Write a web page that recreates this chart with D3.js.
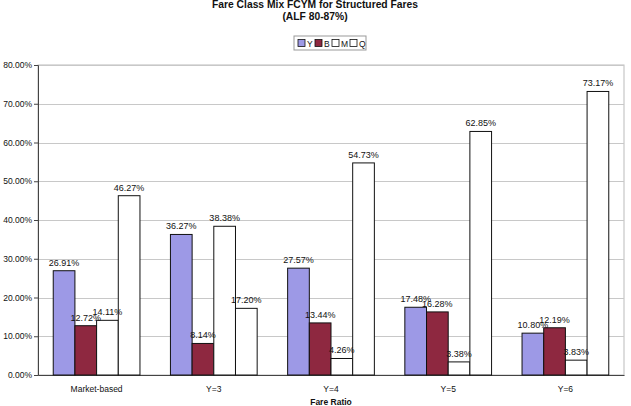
<!DOCTYPE html>
<html><head><meta charset="utf-8">
<script src="https://cdn.jsdelivr.net/npm/d3@7"></script>
<style>body{margin:0;background:#fff}svg{display:block;font-family:"Liberation Sans",Arial,sans-serif}</style>
</head><body><svg id="c" width="631" height="406"></svg>
<script>
const categories = ["Market-based","Y=3","Y=4","Y=5","Y=6"];
const seriesNames = ["Y","B","M","Q"];
const valY = [26.91,36.27,27.57,17.48,10.80];
const valB = [12.72,8.14,13.44,16.28,12.19];
const valM = [14.11,38.38,4.26,3.38,3.83];
const valQ = [46.27,17.20,54.73,62.85,73.17];
const yTicks = [0,10,20,30,40,50,60,70,80];
const colors = ["#9d99e6","#8e2840","#ffffff","#ffffff"];
const series = [valY,valB,valM,valQ];

const svg = d3.select("#c");
const L=38,R=624,T=65,B=375;
const x = d3.scaleBand().domain(categories).range([L,R]).paddingInner(0.26).paddingOuter(0.13);
const xs = d3.scaleBand().domain(seriesNames).range([0,x.bandwidth()]);
const y = d3.scaleLinear().domain([0,80]).range([B,T]);

svg.append("rect").attr("x",L).attr("y",T).attr("width",R-L).attr("height",B-T).attr("fill","none").attr("stroke","#bbb").attr("stroke-width",1);
svg.append("g").selectAll("line").data(yTicks.slice(1)).join("line")
 .attr("x1",L).attr("x2",R).attr("y1",d=>Math.round(y(d))+0.5).attr("y2",d=>Math.round(y(d))+0.5)
 .attr("stroke","#c8c8c8").attr("stroke-width",1);

const yAxis = d3.axisLeft(y).tickValues(yTicks).tickFormat(d=>d.toFixed(2)+"%").tickSize(4).tickPadding(2);
const gy = svg.append("g").attr("transform",`translate(${L},0)`).call(yAxis);
gy.selectAll("text").attr("font-size","8.5px").attr("fill","#111");
gy.selectAll("line,path").attr("stroke","#444");

const xAxis = d3.axisBottom(x).tickSize(0).tickPadding(11);
const gx = svg.append("g").attr("transform",`translate(0,${B})`).call(xAxis);
gx.selectAll("text").attr("font-size","8.5px").attr("fill","#111");
gx.select("path").attr("stroke","#444");

const groups = svg.append("g").selectAll("g").data(categories).join("g")
 .attr("transform",d=>`translate(${x(d)},0)`);
series.forEach((vals,si)=>{
  groups.append("rect")
   .attr("x",xs(seriesNames[si])).attr("width",xs.bandwidth())
   .attr("y",(d,i)=>y(vals[i])).attr("height",(d,i)=>B-y(vals[i]))
   .attr("fill",colors[si]).attr("stroke","#111").attr("stroke-width",1);
});
series.forEach((vals,si)=>{
  groups.append("text")
   .attr("x",xs(seriesNames[si])+xs.bandwidth()/2)
   .attr("y",(d,i)=>y(vals[i])-5)
   .attr("text-anchor","middle").attr("font-size","9px").attr("fill","#111")
   .text((d,i)=>vals[i].toFixed(2)+"%");
});

svg.append("text").attr("x",315).attr("y",8).attr("text-anchor","middle").attr("font-size","10.3px").attr("font-weight","bold").attr("fill","#111").text("Fare Class Mix FCYM for Structured Fares");
svg.append("text").attr("x",315).attr("y",20).attr("text-anchor","middle").attr("font-size","10.3px").attr("font-weight","bold").attr("fill","#111").text("(ALF 80-87%)");
svg.append("text").attr("x",331).attr("y",405).attr("text-anchor","middle").attr("font-size","8.5px").attr("font-weight","bold").attr("fill","#111").text("Fare Ratio");

const lg = svg.append("g").attr("transform","translate(294,36)");
lg.append("rect").attr("x",0).attr("y",0).attr("width",72).attr("height",14).attr("fill","#fff").attr("stroke","#999");
const lx=[4,21,38,56];
seriesNames.forEach((n,i)=>{
  lg.append("rect").attr("x",lx[i]).attr("y",3.5).attr("width",7).attr("height",7).attr("fill",colors[i]).attr("stroke","#111").attr("stroke-width",0.8);
  lg.append("text").attr("x",lx[i]+9).attr("y",10.5).attr("font-size","8.5px").attr("fill","#111").text(n);
});
</script></body></html>
